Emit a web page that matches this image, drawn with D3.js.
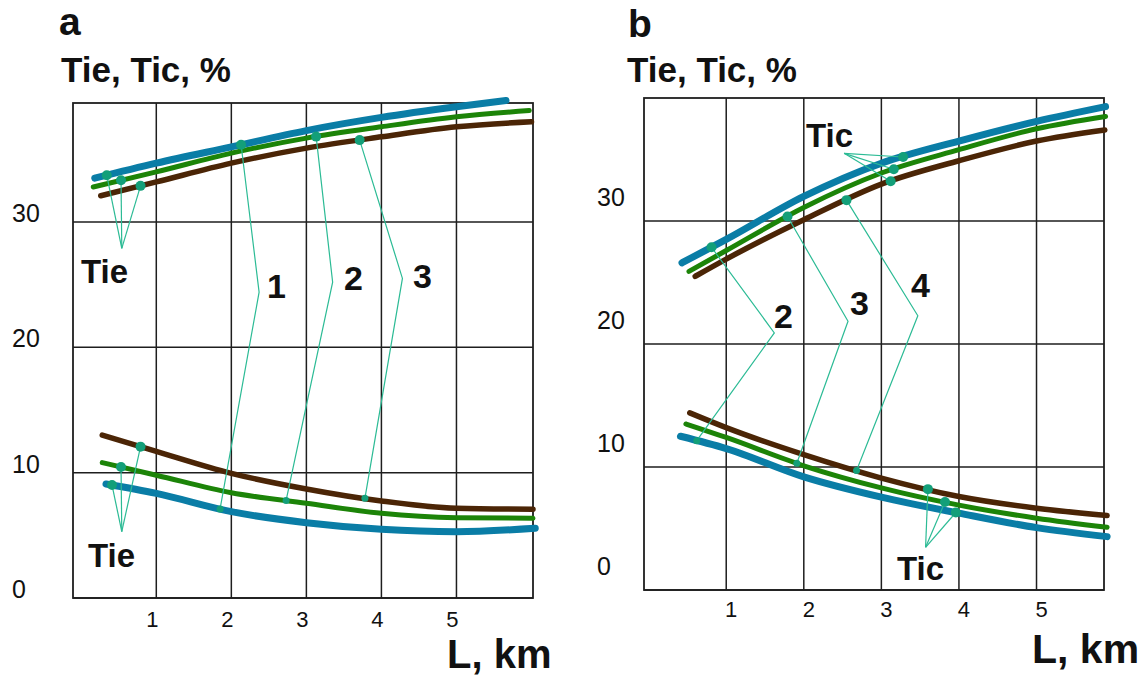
<!DOCTYPE html>
<meta charset="UTF-8">
<style>
  body { margin: 0; background-color: #fff; }
  svg { display: block; font-family: "Liberation Sans", Arial, sans-serif; }
</style>
<svg xmlns="http://www.w3.org/2000/svg" width="1145" height="677"></svg>
<script src="https://d3js.org/d3.v7.min.js"></script>
<script>
  const X_TICKS = [1, 2, 3, 4, 5],
        Y_TICKS = [0, 10, 20, 30];

  // panel a: L (km) vs Tie (%)
  const aUpBlue  = [[0.18, 33.5], [1, 34.7], [2, 36.0], [3, 37.3], [4, 38.35], [5, 39.2], [5.66, 39.7]];
  const aUpGreen = [[0.16, 32.8], [1, 34.0], [2, 35.5], [3, 36.7], [4, 37.6], [5, 38.4], [5.97, 38.9]];
  const aUpBrown = [[0.26, 32.1], [1, 33.2], [2, 34.7], [3, 35.9], [4, 36.8], [5, 37.6], [6.0, 38.0]];
  const aLoBrown = [[0.28, 13.0], [1, 11.7], [2, 9.95], [3, 8.7], [4, 7.74], [5, 7.16], [6.02, 7.08]];
  const aLoGreen = [[0.28, 10.8], [1, 9.8], [2, 8.4], [3, 7.56], [4, 6.76], [5, 6.41], [6.02, 6.36]];
  const aLoBlue  = [[0.33, 9.1], [1, 8.35], [2, 6.89], [3, 6.01], [4, 5.48], [5, 5.29], [6.05, 5.56]];

  // panel b: L (km) vs Tic (%)
  const bUpBlue  = [[0.43, 26.6], [1, 28.5], [2, 32.0], [3, 34.7], [4, 36.5], [5, 38.1], [5.89, 39.3]];
  const bUpGreen = [[0.52, 25.9], [1, 27.6], [2, 31.1], [3, 33.9], [4, 35.8], [5, 37.5], [5.89, 38.5]];
  const bUpBrown = [[0.6, 25.5], [1, 26.9], [2, 30.1], [3, 33.0], [4, 34.9], [5, 36.5], [5.88, 37.4]];
  const bLoBrown = [[0.53, 14.4], [1, 13.2], [2, 11.0], [3, 9.1], [4, 7.6], [5, 6.65], [5.91, 6.05]];
  const bLoGreen = [[0.48, 13.5], [1, 12.4], [2, 10.1], [3, 8.3], [4, 6.9], [5, 5.84], [5.91, 5.1]];
  const bLoBlue  = [[0.41, 12.5], [1, 11.5], [2, 9.2], [3, 7.55], [4, 6.25], [5, 5.07], [5.91, 4.34]];

  const BLUE = '#0a7da6', GREEN = '#1c8408', BROWN = '#4b2506',
        LEADER = '#2cbb95', DOT = '#139f79';

  const panels = [
    {
      title: 'a', yTitle: 'Tie, Tic, %', xTitle: 'L, km',
      box: { left: 73, right: 533, top: 103, bottom: 598 },
      xDomain: [-0.11, 6.02], yDomain: [0, 39.5],
      titlePos: [59, 35], yTitlePos: [61, 82], xTitlePos: [447, 668], xTitleSize: 40,
      yLabelX: 12, yLabelDy: 0, xLabelDx: -4, xLabelY: 627,
      curves: [
        { data: aUpBrown, color: BROWN, width: 5.5 },
        { data: aUpGreen, color: GREEN, width: 5 },
        { data: aUpBlue, color: BLUE, width: 7 },
        { data: aLoBrown, color: BROWN, width: 5.5 },
        { data: aLoGreen, color: GREEN, width: 5 },
        { data: aLoBlue, color: BLUE, width: 7 },
      ],
      groups: [
        { text: 'Tie', textPos: [81, 283], apex: [0.54, 27.9],
          dots: [[aUpBlue, 0.34], [aUpGreen, 0.53], [aUpBrown, 0.79]] },
        { text: 'Tie', textPos: [88, 567], apex: [0.54, 5.3],
          dots: [[aLoBlue, 0.41], [aLoGreen, 0.53], [aLoBrown, 0.79]] },
      ],
      leaders: [
        { text: '1', textPos: [267, 298], top: [aUpBlue, 2.13], elbow: [2.37, 24.4], bottom: [aLoBlue, 1.85] },
        { text: '2', textPos: [344, 290], top: [aUpGreen, 3.13], elbow: [3.35, 25.2], bottom: [aLoGreen, 2.73] },
        { text: '3', textPos: [413, 288], top: [aUpBrown, 3.71], elbow: [4.28, 25.5], bottom: [aLoBrown, 3.78] },
      ],
    },
    {
      title: 'b', yTitle: 'Tie, Tic, %', xTitle: 'L, km',
      box: { left: 644, right: 1104, top: 98, bottom: 590 },
      xDomain: [-0.06, 5.87], yDomain: [0, 40.0],
      titlePos: [628, 37], yTitlePos: [627, 82], xTitlePos: [1032, 663], xTitleSize: 41,
      yLabelX: 597, yLabelDy: -15, xLabelDx: 5, xLabelY: 617,
      curves: [
        { data: bUpBrown, color: BROWN, width: 5.5 },
        { data: bUpGreen, color: GREEN, width: 5 },
        { data: bUpBlue, color: BLUE, width: 7 },
        { data: bLoBrown, color: BROWN, width: 5.5 },
        { data: bLoGreen, color: GREEN, width: 5 },
        { data: bLoBlue, color: BLUE, width: 7 },
      ],
      groups: [
        { text: 'Tic', textPos: [806, 147], apex: [2.52, 35.5],
          dots: [[bUpBlue, 3.28], [bUpGreen, 3.16], [bUpBrown, 3.12]] },
        { text: 'Tic', textPos: [897, 580], apex: [3.57, 3.47],
          dots: [[bLoBrown, 3.60], [bLoGreen, 3.82], [bLoBlue, 3.96]] },
      ],
      leaders: [
        { text: '2', textPos: [774, 328], top: [bUpBlue, 0.81], elbow: [1.62, 20.9], bottom: [bLoBlue, 0.62] },
        { text: '3', textPos: [850, 315], top: [bUpGreen, 1.79], elbow: [2.57, 21.85], bottom: [bLoGreen, 1.91] },
        { text: '4', textPos: [911, 297], top: [bUpBrown, 2.55], elbow: [3.47, 22.3], bottom: [bLoBrown, 2.68] },
      ],
    },
  ];

  const svg = d3.select('svg');
  svg.append('rect').attr('width', 1145).attr('height', 677).attr('fill', '#fff');

  // value of a series at a given L
  const valueAt = (series, v) => d3.scaleLinear()
    .domain(series.map(d => d[0]))
    .range(series.map(d => d[1]))(v);

  panels.forEach(p => {
    const g = svg.append('g');
    const x = d3.scaleLinear().domain(p.xDomain).range([p.box.left, p.box.right]);
    const y = d3.scaleLinear().domain(p.yDomain).range([p.box.bottom, p.box.top]);
    const pt = ([series, v]) => [x(v), y(valueAt(series, v))];

    // grid
    g.selectAll('line.vgrid').data(X_TICKS).enter().append('line')
      .attr('x1', d => x(d)).attr('x2', d => x(d))
      .attr('y1', p.box.top).attr('y2', p.box.bottom)
      .attr('stroke', '#1e1e1e').attr('stroke-width', 1.5);
    g.selectAll('line.hgrid').data(Y_TICKS).enter().append('line')
      .attr('x1', p.box.left).attr('x2', p.box.right)
      .attr('y1', d => y(d)).attr('y2', d => y(d))
      .attr('stroke', '#1e1e1e').attr('stroke-width', 1.5);
    g.append('rect')
      .attr('x', p.box.left).attr('y', p.box.top)
      .attr('width', p.box.right - p.box.left).attr('height', p.box.bottom - p.box.top)
      .attr('fill', 'none').attr('stroke', '#1e1e1e').attr('stroke-width', 1.8);

    // tick labels
    g.selectAll('text.ylab').data(Y_TICKS).enter().append('text')
      .attr('x', p.yLabelX).attr('y', d => y(d) + p.yLabelDy)
      .attr('font-size', 25).attr('fill', '#111')
      .text(d => d);
    g.selectAll('text.xlab').data(X_TICKS).enter().append('text')
      .attr('x', d => x(d) + p.xLabelDx).attr('y', p.xLabelY)
      .attr('text-anchor', 'middle')
      .attr('font-size', 22).attr('fill', '#111')
      .text(d => d);

    // curves
    const line = d3.line().x(d => x(d[0])).y(d => y(d[1])).curve(d3.curveMonotoneX);
    g.selectAll('path.curve').data(p.curves).enter().append('path')
      .attr('d', d => line(d.data))
      .attr('fill', 'none')
      .attr('stroke', d => d.color)
      .attr('stroke-width', d => d.width)
      .attr('stroke-linecap', 'round');

    // leaders for curve numbers
    p.leaders.forEach(l => {
      const pts = [pt(l.top), [x(l.elbow[0]), y(l.elbow[1])], pt(l.bottom)];
      g.append('polyline')
        .attr('points', pts.map(q => q.join(',')).join(' '))
        .attr('fill', 'none').attr('stroke', LEADER).attr('stroke-width', 1.2);
      g.selectAll(null).data([pts[0], pts[2]]).enter().append('circle')
        .attr('cx', d => d[0]).attr('cy', d => d[1])
        .attr('r', (d, i) => i === 0 ? 5 : 3.5)
        .attr('fill', DOT);
      g.append('text')
        .attr('x', l.textPos[0]).attr('y', l.textPos[1])
        .attr('font-size', 34).attr('font-weight', 'bold').attr('fill', '#111')
        .text(l.text);
    });

    // Tie / Tic groups
    p.groups.forEach(gr => {
      const apex = [x(gr.apex[0]), y(gr.apex[1])];
      const dots = gr.dots.map(pt);
      g.selectAll(null).data(dots).enter().append('line')
        .attr('x1', apex[0]).attr('y1', apex[1])
        .attr('x2', d => d[0]).attr('y2', d => d[1])
        .attr('stroke', LEADER).attr('stroke-width', 1.2);
      g.selectAll(null).data(dots).enter().append('circle')
        .attr('cx', d => d[0]).attr('cy', d => d[1])
        .attr('r', 5).attr('fill', DOT);
      g.append('text')
        .attr('x', gr.textPos[0]).attr('y', gr.textPos[1])
        .attr('font-size', 33).attr('font-weight', 'bold').attr('fill', '#111')
        .text(gr.text);
    });

    // titles
    g.append('text')
      .attr('x', p.titlePos[0]).attr('y', p.titlePos[1])
      .attr('font-size', 39).attr('font-weight', 'bold').attr('fill', '#111')
      .text(p.title);
    g.append('text')
      .attr('x', p.yTitlePos[0]).attr('y', p.yTitlePos[1])
      .attr('font-size', 35).attr('font-weight', 'bold').attr('fill', '#111')
      .text(p.yTitle);
    g.append('text')
      .attr('x', p.xTitlePos[0]).attr('y', p.xTitlePos[1])
      .attr('font-size', p.xTitleSize).attr('font-weight', 'bold').attr('fill', '#111')
      .text(p.xTitle);
  });
</script>
